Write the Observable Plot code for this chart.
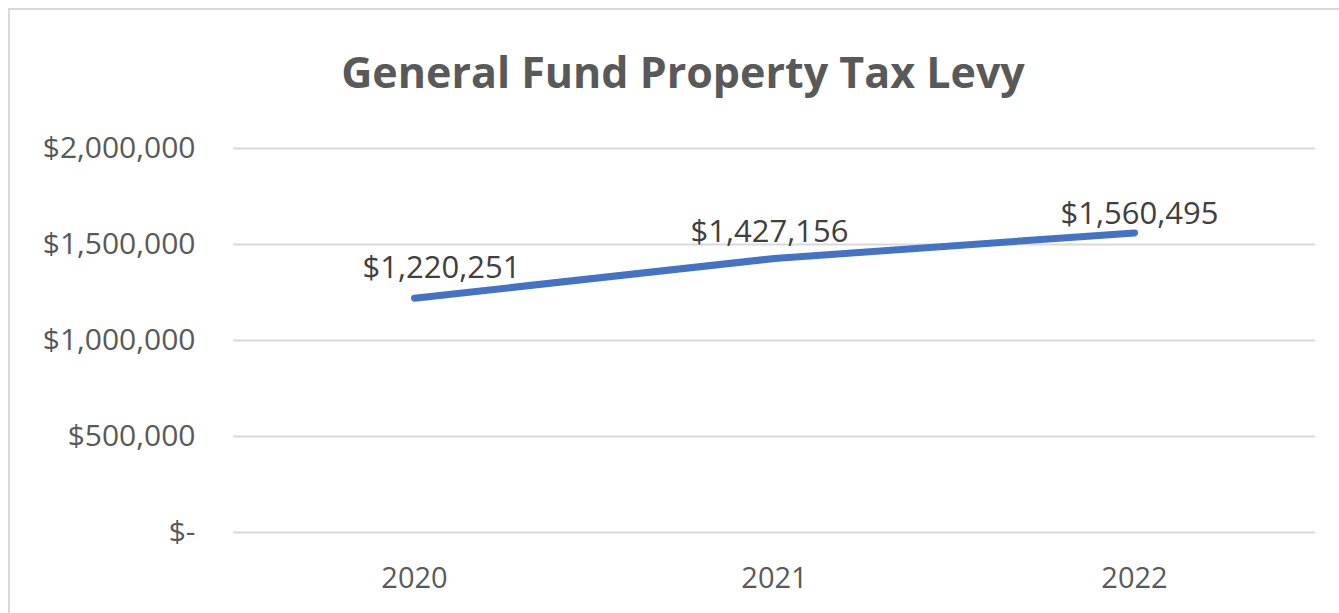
<!DOCTYPE html>
<html><head><meta charset="utf-8">
<script src="https://cdn.jsdelivr.net/npm/d3@7"></script>
<script src="https://cdn.jsdelivr.net/npm/@observablehq/plot@0.6"></script>
<style>
body{margin:0;background:#fff;font-family:"Open Sans",sans-serif;}
#wrap{position:relative;width:1339px;height:613px;overflow:hidden;background:#fff;}
#frame{position:absolute;left:8px;top:8px;width:1400px;height:700px;border:2px solid #d9d9d9;}
#title{position:absolute;left:0;width:1366px;top:42px;text-align:center;font-weight:700;font-size:43px;color:#595959;line-height:60px;}
#chart{position:absolute;left:0;top:0;}
</style></head><body>
<div id="wrap"><div id="frame"></div><div id="title">General Fund Property Tax Levy</div><div id="chart"></div></div>
<script>
const years = ["2020", "2021", "2022"];
const levy = [1220251, 1427156, 1560495];
const yTicks = [0, 500000, 1000000, 1500000, 2000000];

const data = years.map((year, i) => ({year, value: levy[i]}));
const money = d3.format("$,");
const tickFmt = v => v === 0 ? "$-" : money(v);
const labelStyle = {x: "year", y: "value", text: d => money(d.value), fill: "#404040", fontSize: 31};

const plot = Plot.plot({
  width: 1339, height: 613,
  marginLeft: 233, marginRight: 24, marginTop: 148, marginBottom: 81,
  style: {background: "transparent", fontFamily: "Open Sans", color: "#595959", fontSize: "29px", overflow: "visible"},
  x: {type: "point", domain: years, padding: 0.5, label: null},
  y: {domain: [0, 2000000], label: null},
  marks: [
    Plot.gridY(yTicks, {stroke: "#d9d9d9", strokeOpacity: 1, strokeWidth: 2}),
    Plot.axisY({ticks: yTicks, tickFormat: tickFmt, tickSize: 0, tickPadding: 38, label: null, fill: "#595959", fontSize: 30}),
    Plot.axisX({tickSize: 0, tickPadding: 35, label: null, fill: "#595959", fontSize: 29}),
    Plot.lineY(data, {x: "year", y: "value", stroke: "#4472C4", strokeWidth: 7, strokeLinecap: "round"}),
    Plot.text(data, {...labelStyle, filter: d => d.year === "2020", dx: 27, dy: -30}),
    Plot.text(data, {...labelStyle, filter: d => d.year === "2021", dx: -5, dy: -26}),
    Plot.text(data, {...labelStyle, filter: d => d.year === "2022", dx: 5, dy: -19})
  ]
});
document.getElementById("chart").appendChild(plot);
</script>
</body></html>
